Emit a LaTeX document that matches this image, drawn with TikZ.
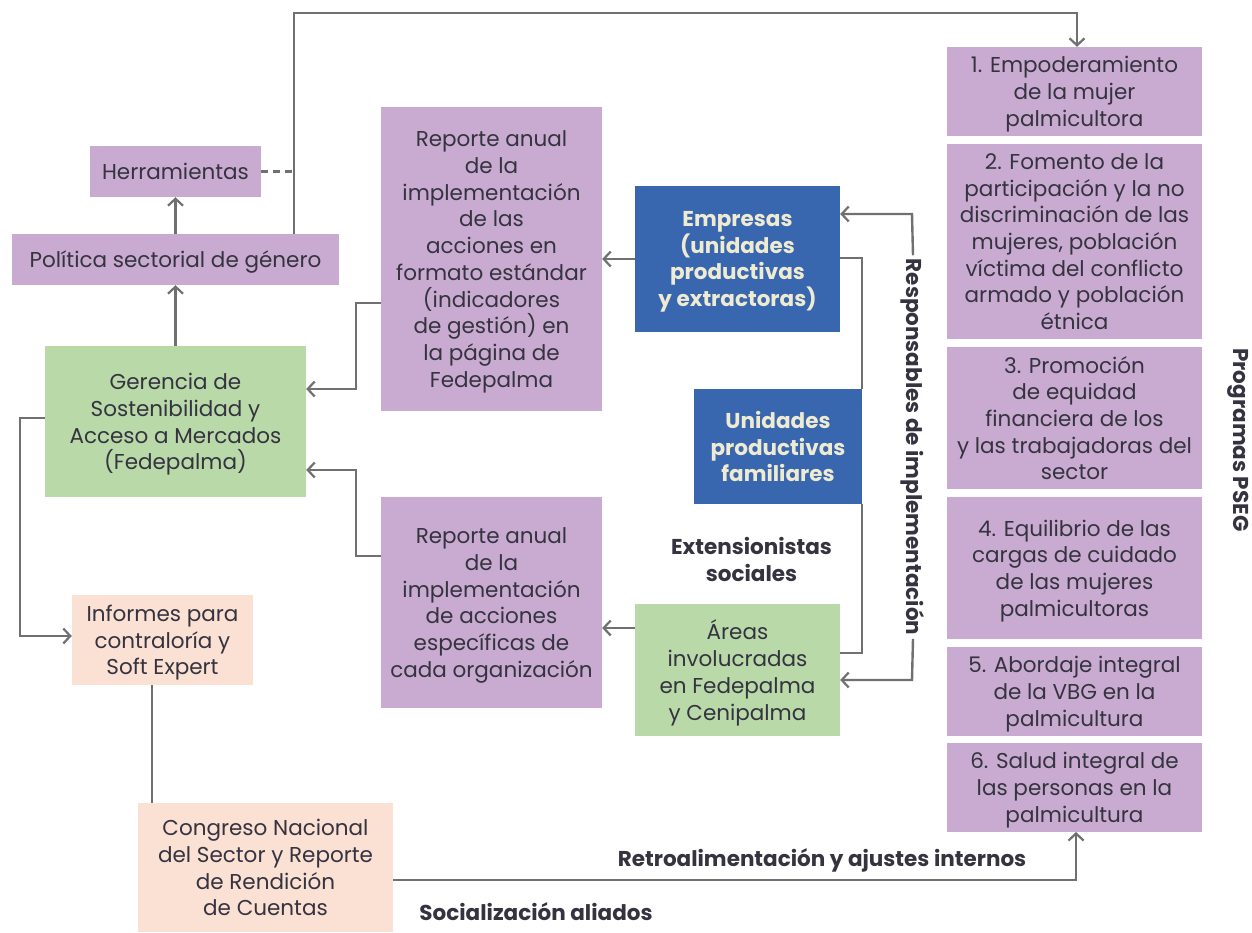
\documentclass[tikz,border=0pt]{standalone}
\usepackage{fontspec}
\setmainfont{Poppins}
\usetikzlibrary{arrows.meta}
\definecolor{cpurple}{HTML}{C9ABD2}
\definecolor{cgreen}{HTML}{B9D9A9}
\definecolor{cpeach}{HTML}{FBE0D4}
\definecolor{cblue}{HTML}{3866AF}
\definecolor{cline}{HTML}{707070}
\definecolor{ctext}{HTML}{34333F}
\definecolor{ccream}{HTML}{EEEBD2}
\tikzset{
  box/.style={rectangle, inner sep=0pt, align=center, text=ctext,
    font=\fontsize{21.5}{26.7}\selectfont, text depth=-10pt},
  pbox/.style={box, fill=cpurple},
  gbox/.style={box, fill=cgreen},
  obox/.style={box, fill=cpeach},
  bbox/.style={box, fill=cblue, text=ccream, font=\fontsize{21.5}{26.7}\selectfont\bfseries},
  conn/.style={draw=cline, line width=2.4pt, -{Straight Barb[length=7pt,width=15pt,line width=2.2pt]}},
  plain/.style={draw=cline, line width=2.4pt},
  lbl/.style={text=ctext, align=center, font=\fontsize{21.5}{26.7}\selectfont\bfseries},
}
\begin{document}
\begin{tikzpicture}[x=1pt,y=-1pt]
\useasboundingbox (0,0) rectangle (1252,932);
% left column
\node[pbox, minimum width=171, minimum height=51] (herr) at (175.5,171.5) {Herramientas};
\node[pbox, minimum width=327, minimum height=51] (pol) at (175.5,259.5) {Política sectorial de género};
\node[gbox, minimum width=261, minimum height=151] (ger) at (175.5,421.5) {Gerencia de\\Sostenibilidad y\\Acceso a Mercados\\(Fedepalma)};
\node[obox, minimum width=181, minimum height=90] (inf) at (162.5,640) {Informes para\\contraloría y\\Soft Expert};
\node[obox, minimum width=255, minimum height=129] (cong) at (265.5,867.5) {Congreso Nacional\\del Sector y Reporte\\de Rendición\\de Cuentas};
% middle
\node[pbox, minimum width=221, minimum height=304] (rep1) at (491.5,259) {Reporte anual\\de la\\implementación\\de las\\acciones en\\formato estándar\\(indicadores\\de gestión) en\\la página de\\Fedepalma};
\node[pbox, minimum width=221, minimum height=211] (rep2) at (491.5,602.5) {Reporte anual\\de la\\implementación\\de acciones\\específicas de\\cada organización};
\node[bbox, minimum width=205, minimum height=146] (emp) at (737.5,259) {Empresas\\(unidades\\productivas\\y extractoras)};
\node[bbox, minimum width=168, minimum height=115] (upf) at (778,446.5) {Unidades\\productivas\\familiares};
\node[lbl] (ext) at (751.5,559.5) {Extensionistas\\sociales};
\node[gbox, minimum width=205, minimum height=132] (areas) at (737.5,670) {Áreas\\involucradas\\en Fedepalma\\y Cenipalma};
% right column
\node[pbox, minimum width=255, minimum height=89] (p1) at (1074.5,91.5) {1. Empoderamiento\\de la mujer\\palmicultora};
\node[pbox, minimum width=255, minimum height=195] (p2) at (1074.5,241.5) {2. Fomento de la\\participación y la no\\discriminación de las\\mujeres, población\\víctima del conflicto\\armado y población\\étnica};
\node[pbox, minimum width=255, minimum height=142] (p3) at (1074.5,418) {3. Promoción\\de equidad\\financiera de los\\y las trabajadoras del\\sector};
\node[pbox, minimum width=255, minimum height=142] (p4) at (1074.5,568) {4. Equilibrio de las\\cargas de cuidado\\de las mujeres\\palmicultoras};
\node[pbox, minimum width=255, minimum height=89] (p5) at (1074.5,691.5) {5. Abordaje integral\\de la VBG en la\\palmicultura};
\node[pbox, minimum width=255, minimum height=89] (p6) at (1074.5,787.5) {6. Salud integral de\\las personas en la\\palmicultura};
% vertical labels
\node[lbl, rotate=-90] (resp) at (913,447) {Responsables de implementación};
\node[lbl, rotate=-90] (prog) at (1238,440) {Programas PSEG};
% bottom labels
\node[lbl] (retro) at (822,860) {Retroalimentación y ajustes internos};
\node[lbl] (soc) at (536,912) {Socialización aliados};
% connectors
\draw[conn] (pol.north) -- (herr.south);
\draw[conn] (ger.north) -- (pol.south);
\coordinate (tr) at (1077,13);
\draw[conn] (294,234) |- (tr) -- (tr |- p1.north);
\draw[plain, dash pattern=on 7pt off 5pt] (herr.east) -- (294,171.5);
\draw[conn] (rep1.west |- 0,303) -| (356,389) -- (ger.east |- 0,389);
\draw[conn] (rep2.west |- 0,556) -| (356,470) -- (ger.east |- 0,470);
\draw[conn] (ger.west |- 0,418) -| (20,636) -- (inf.west |- 0,636);
\draw[plain] (152,685) -- (152,803);
\draw[conn] (cong.east |- 0,880) -| (1076,832);
\draw[conn] (emp.west) -- (rep1.east |- emp.west);
\draw[conn] (areas.west |- 0,628) -- (rep2.east |- 0,628);
\draw[plain] (emp.east |- 0,258) -| (862,389);
\draw[plain] (862,504) |- (areas.east |- 0,653);
\draw[conn] (resp.west) -- (912,214) -- (emp.east |- 0,214);
\draw[conn] (resp.east) -- (912,680) -- (areas.east |- 0,680);
\end{tikzpicture}
\end{document}
